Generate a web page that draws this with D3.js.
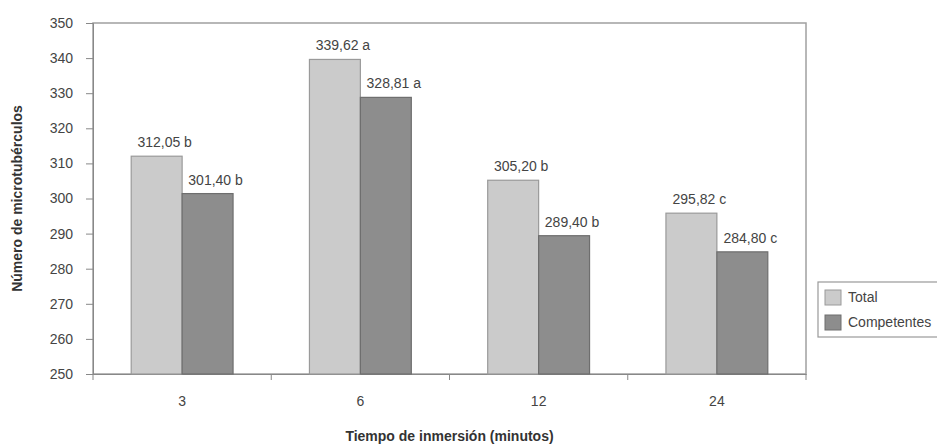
<!DOCTYPE html>
<html><head><meta charset="utf-8">
<script src="https://cdn.jsdelivr.net/npm/d3@7"></script>
<style>
body{margin:0;background:#fff;}
text{font-family:"Liberation Sans Narrow","Arial Narrow","Liberation Sans",Arial,sans-serif;}
</style></head>
<body><svg id="c" width="937" height="446"></svg>
<script>
const categories = ["3","6","12","24"];
const seriesNames = ["Total","Competentes"];
const totalValues = [312.05, 339.62, 305.20, 295.82];
const competentesValues = [301.40, 328.81, 289.40, 284.80];
const totalLetters = ["b","a","b","c"];
const competentesLetters = ["b","a","b","c"];
const yTicks = [250,260,270,280,290,300,310,320,330,340,350];

const colors = {Total:"#cbcbcb", Competentes:"#8d8d8d"};
const strokes = {Total:"#9a9a9a", Competentes:"#6e6e6e"};

const svg = d3.select("#c");
const L=93, R=806, T=23, B=374;
const x = d3.scaleBand().domain(categories).range([L,R]);
const x1 = d3.scaleBand().domain(seriesNames).range([0,x.bandwidth()]).paddingInner(0).paddingOuter(0.75);
const y = d3.scaleLinear().domain([250,350]).range([B,T]);

const data = categories.map((c,i)=>({cat:c, vals:[
  {s:"Total", v:totalValues[i], l:totalLetters[i]},
  {s:"Competentes", v:competentesValues[i], l:competentesLetters[i]}]}));

// frame
svg.append("rect").attr("x",L).attr("y",T).attr("width",R-L).attr("height",B-T)
  .attr("fill","none").attr("stroke","#a0a0a0").attr("stroke-width",1.5);

// y axis
const ya = svg.append("g").attr("transform",`translate(${L},0)`)
  .call(d3.axisLeft(y).tickValues(yTicks).tickSize(7).tickPadding(13));
ya.select(".domain").attr("stroke","#888");
ya.selectAll(".tick line").attr("stroke","#888");
ya.selectAll("text").attr("fill","#444").style("font-size","14px");

// x axis
const xa = svg.append("g").attr("transform",`translate(0,${B})`)
  .call(d3.axisBottom(x).tickSize(0).tickPadding(22));
xa.select(".domain").attr("stroke","#888");
xa.selectAll("text").attr("fill","#444").style("font-size","14px");
// boundary ticks
const bounds = categories.map(c=>x(c)).concat([R]);
svg.append("g").selectAll("line").data(bounds).join("line")
  .attr("x1",d=>d).attr("x2",d=>d).attr("y1",B).attr("y2",B+6).attr("stroke","#888");

// bars
const g = svg.append("g").selectAll("g").data(data).join("g")
  .attr("transform",d=>`translate(${x(d.cat)},0)`);
g.selectAll("rect").data(d=>d.vals).join("rect")
  .attr("x",d=>x1(d.s)).attr("width",x1.bandwidth())
  .attr("y",d=>y(d.v)).attr("height",d=>B-y(d.v))
  .attr("fill",d=>colors[d.s]).attr("stroke",d=>strokes[d.s]).attr("stroke-width",1.2);
g.selectAll("text").data(d=>d.vals).join("text")
  .attr("x",d=>x1(d.s)+x1.bandwidth()/2+8).attr("y",d=>y(d.v)-9)
  .attr("text-anchor","middle").attr("fill","#444").style("font-size","14px")
  .text(d=>d3.format(".2f")(d.v).replace(".",",")+" "+d.l);

// axis titles
svg.append("text").attr("transform",`translate(22,${(T+B)/2}) rotate(-90)`)
  .attr("text-anchor","middle").attr("fill","#333").style("font-size","14px").style("font-weight","bold")
  .text("Número de microtubérculos");
svg.append("text").attr("x",(L+R)/2).attr("y",441).attr("text-anchor","middle")
  .attr("fill","#333").style("font-size","14px").style("font-weight","bold")
  .text("Tiempo de inmersión (minutos)");

// legend
const lg = svg.append("g").attr("transform","translate(818,282)");
lg.append("rect").attr("width",130).attr("height",55).attr("fill","#fff").attr("stroke","#999").attr("stroke-width",1.2);
seriesNames.forEach((s,i)=>{
  lg.append("rect").attr("x",7).attr("y",8+i*25).attr("width",16).attr("height",15)
    .attr("fill",colors[s]).attr("stroke",strokes[s]);
  lg.append("text").attr("x",30).attr("y",20+i*25).attr("fill","#444").style("font-size","14px").text(s);
});
</script></body></html>
